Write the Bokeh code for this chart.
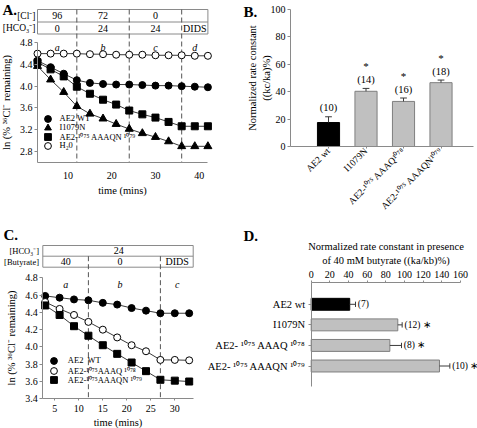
import math
from bokeh.plotting import figure
from bokeh.models import (Range1d, FixedTicker, PrintfTickFormatter, Legend,
                          LegendItem, GlobalInlineStyleSheet)
from bokeh.layouts import row, column
from bokeh.core.properties import value
from bokeh.embed import file_html
from bokeh.resources import INLINE

FONT = "Liberation Serif"
AXC = "#8a8a8a"
LINEC = "#3a3a3a"
DASHC = "#555555"
GRAYBAR = "#c0c0c0"
GRAYEDGE = "#7f7f7f"

# ---------------- Panel A data ----------------
a_time = [3, 6, 9, 12, 15, 18, 21, 24, 27, 30, 33, 36, 39, 42]
a_wt = [4.47, 4.35, 4.23, 4.11, 4.06, 4.04, 4.03, 4.03, 4.02, 4.01, 4.01, 4.00, 3.99, 3.98]
a_i1079n = [4.37, 4.12, 3.89, 3.63, 3.49, 3.40, 3.30, 3.21, 3.13, 3.06, 2.98, 2.89, 2.89, 2.89]
a_aaaqn = [4.44, 4.31, 4.18, 3.99, 3.86, 3.75, 3.66, 3.55, 3.48, 3.42, 3.34, 3.26, 3.26, 3.26]
a_h2o = [4.60, 4.60, 4.60, 4.60, 4.59, 4.59, 4.58, 4.58, 4.58, 4.57, 4.57, 4.57, 4.56, 4.56]
a_edges = [12, 24, 36]
a_phase_mid = [7.5, 18, 30, 39]
a_letters = ["a", "b", "c", "d"]
a_cl = ["96", "72", "0", ""]
a_hco3 = ["0", "24", "24", "DIDS"]
a_yticks = [2.8, 3.2, 3.6, 4.0, 4.4, 4.8]
a_xticks = [10, 20, 30, 40]
a_legend = ["AE2 WT", "I1079N", "AE2-\u00b9\u2070\u2077\u2075 AAAQN \u00b9\u2070\u2077\u2079", "H\u20820"]

# ---------------- Panel B data ----------------
b_x = [1, 2, 3, 4]
b_labels = ["AE2 wt", "I1079N", "AE2-\u00b9\u2070\u2077\u2075 AAAQ\u00b9\u2070\u2077\u2078",
            "AE2-\u00b9\u2070\u2077\u2075 AAAQN\u00b9\u2070\u2077\u2079"]
b_vals = [17.5, 40.3, 32.9, 46.6]
b_err = [4.2, 2.1, 2.5, 1.9]
b_n = ["(10)", "(14)", "(16)", "(18)"]
b_sig = ["", "*", "*", "*"]
b_yticks = [0, 20, 40, 60, 80, 100]

# ---------------- Panel C data ----------------
c_time = [3, 6, 9, 12, 15, 18, 21, 24, 27, 30, 33]
c_wt = [4.59, 4.57, 4.55, 4.54, 4.51, 4.49, 4.45, 4.42, 4.39, 4.39, 4.39]
c_aaaq = [4.52, 4.44, 4.37, 4.29, 4.20, 4.11, 4.02, 3.95, 3.85, 3.85, 3.845]
c_aaaqn = [4.48, 4.37, 4.24, 4.13, 4.02, 3.92, 3.82, 3.72, 3.62, 3.61, 3.60]
c_edges = [12, 27]
c_phase_mid = [7.3, 18.6, 30.5]
c_letters = ["a", "b", "c"]
c_butyrate = ["40", "0", "DIDS"]
c_hco3 = ["24"]
c_yticks = [3.4, 3.6, 3.8, 4.0, 4.2, 4.4, 4.6, 4.8]
c_xticks = [5, 10, 15, 20, 25, 30]
c_legend = ["AE2  WT", "AE2-\u00b9\u2070\u2077\u2075AAAQ \u00b9\u2070\u2077\u2078",
            "AE2-\u00b9\u2070\u2077\u2075AAAQN \u00b9\u2070\u2077\u2079"]

# ---------------- Panel D data ----------------
d_y = [1, 2, 3, 4]
d_labels = ["AE2 wt", "I1079N", "AE2- \u00b9\u2070\u2077\u2075 AAAQ \u00b9\u2070\u2077\u2078",
            "AE2- \u00b9\u2070\u2077\u2075 AAAQN \u00b9\u2070\u2077\u2079"]
d_vals = [41.3, 92.8, 84.3, 137.5]
d_err = [6.2, 4.7, 12.5, 11.1]
d_n = ["(7)", "(12) \u2217", "(8) \u2217", "(10) \u2217"]
d_xticks = [0, 20, 40, 60, 80, 100, 120, 140, 160]

BAR_FILL = ["black", GRAYBAR, GRAYBAR, GRAYBAR]
BAR_EDGE = ["black", GRAYEDGE, GRAYEDGE, GRAYEDGE]


def lin(d0, p0, k):
    """data value at pixel p for a linear screen mapping (k px per unit)."""
    return lambda p: d0 + (p - p0) / k


def make_fig(w, h, xr, yr, **kw):
    p = figure(width=w, height=h, x_range=xr, y_range=yr, title=None,
               min_border=0, min_border_left=0, min_border_right=0,
               min_border_top=0, min_border_bottom=0,
               output_backend="svg", toolbar_location=None, **kw)
    p.grid.visible = False
    p.outline_line_color = None
    p.background_fill_color = "white"
    p.border_fill_color = "white"
    for ax in p.axis:
        ax.axis_line_color = AXC
        ax.major_tick_line_color = AXC
        ax.minor_tick_line_color = None
        ax.major_tick_in = 0
        ax.major_tick_out = 3
        ax.major_label_text_font = FONT
        ax.major_label_text_font_size = "10px"
        ax.major_label_text_color = "black"
        ax.axis_label_text_font = FONT
        ax.axis_label_text_font_size = "10.5px"
        ax.axis_label_text_font_style = "normal"
        ax.axis_label_text_color = "black"
    return p


def txt(p, xs, ys, texts, size="10px", style="normal", align="center", baseline="middle"):
    p.text(x=xs, y=ys, text=texts, text_font=value(FONT), text_font_size=value(size),
           text_font_style=style, text_align=align, text_baseline=baseline, text_color="black")


def panel_letter(p, s, x, y):
    txt(p, [x], [y], [s], size="15px", style="bold", align="left", baseline="top")


def legend_rows(p, renderers, labels, xs_px, ys_px, standoff, box=17, size="8.5px"):
    for r, lab, yb in zip(renderers, labels, ys_px):
        lg = Legend(items=[LegendItem(label=lab, renderers=[r])],
                    location=(xs_px - box / 2, yb - box / 2),
                    label_text_font=FONT, label_text_font_size=size,
                    label_text_color="black",
                    glyph_width=box, glyph_height=box, label_height=box,
                    spacing=0, padding=0, margin=0, label_standoff=standoff,
                    border_line_color=None, background_fill_alpha=0)
        p.add_layout(lg)


# ======================= Panel A =======================
AW, AH = 240, 220
axA = lin(3, 37, 4.369)
ayA = lin(4.8, 42.3, -54.2)
pA = make_fig(AW, AH, Range1d(axA(0), axA(AW)), Range1d(ayA(AH), ayA(0)))
pA.yaxis.fixed_location = 3
pA.yaxis.bounds = (2.6, 4.8)
pA.yaxis.ticker = FixedTicker(ticks=a_yticks)
pA.yaxis.formatter = PrintfTickFormatter(format="%.1f")
pA.yaxis.axis_label = "ln (% \u00b3\u2076Cl\u207b remaining)"
pA.yaxis.major_label_standoff = 2
pA.yaxis.axis_label_standoff = 5
pA.xaxis.fixed_location = 2.6
pA.xaxis.bounds = (3, 42)
pA.xaxis.ticker = FixedTicker(ticks=a_xticks)
pA.xaxis.major_tick_line_color = None
pA.xaxis.major_label_standoff = 7
pA.xaxis.axis_label = "time (mins)"
pA.xaxis.axis_label_standoff = 2

a_top, a_mid, a_bot = ayA(9), ayA(21.5), ayA(33.5)
pA.segment(x0=[3, 3, 3], x1=[42, 42, 42], y0=[a_top, a_mid, a_bot], y1=[a_top, a_mid, a_bot],
           line_color=AXC, line_width=1)
pA.segment(x0=[3, 42], x1=[3, 42], y0=[a_top, a_top], y1=[a_bot, a_bot], line_color=AXC)
pA.segment(x0=a_edges, x1=a_edges, y0=[a_top] * 3, y1=[2.6] * 3,
           line_color=DASHC, line_dash="5 3", line_width=1)
row1A, row2A = (a_top + a_mid) / 2, (a_mid + a_bot) / 2
txt(pA, a_phase_mid, [row1A] * 4, a_cl)
txt(pA, a_phase_mid, [row2A] * 4, a_hco3)
txt(pA, a_phase_mid, [ayA(46.5)] * 4, a_letters, style="italic")
txt(pA, [axA(35), axA(35)], [row1A, row2A], ["[Cl\u207b]", "[HCO\u2083\u207b]"],
    size="9.5px", align="right")
panel_letter(pA, "A.", axA(2), ayA(1))

for ys in (a_wt, a_i1079n, a_aaaqn, a_h2o):
    pA.line(a_time, ys, line_color=LINEC, line_width=1)
rA1 = pA.scatter(a_time, a_wt, marker="circle", size=7, fill_color="black", line_color="black")
rA2 = pA.scatter(a_time, a_i1079n, marker="triangle", size=8, fill_color="black", line_color="black")
rA3 = pA.scatter(a_time, a_aaaqn, marker="square", size=7, fill_color="black", line_color="black")
rA4 = pA.scatter(a_time, a_h2o, marker="circle", size=7, fill_color="white", line_color="black")
legend_rows(pA, [rA1, rA2, rA3, rA4], a_legend, 47,
            [AH - 118, AH - 127, AH - 136, AH - 145], 4)

# ======================= Panel B =======================
BW, BH = 237, 220
axB = lin(1, 88, 37.5)
ayB = lin(100, 9, -1.37)
pB = make_fig(BW, BH, Range1d(axB(0), axB(BW)), Range1d(ayB(BH), ayB(0)))
pB.yaxis.fixed_location = axB(50)
pB.yaxis.bounds = (0, 100)
pB.yaxis.ticker = FixedTicker(ticks=b_yticks)
pB.yaxis.axis_label = "Normalized rate constant\n((kc/ka)%)"
pB.yaxis.major_label_standoff = 2
pB.yaxis.axis_label_standoff = -4
pB.xaxis.fixed_location = 0
pB.xaxis.bounds = (axB(50), axB(233))
pB.xaxis.ticker = FixedTicker(ticks=b_x)
pB.xaxis.major_label_overrides = {x: l for x, l in zip(b_x, b_labels)}
pB.xaxis.major_label_orientation = math.pi / 4
pB.xaxis.major_tick_out = 2
pB.xaxis.major_label_standoff = 1
pB.xaxis.major_label_text_font_size = "9.5px"
pB.vbar(x=b_x, top=b_vals, width=0.59, fill_color=BAR_FILL, line_color=BAR_EDGE, line_width=1)
b_tops = [v + e for v, e in zip(b_vals, b_err)]
pB.segment(x0=b_x, x1=b_x, y0=b_vals, y1=b_tops, line_color=LINEC)
pB.segment(x0=[x - 0.09 for x in b_x], x1=[x + 0.09 for x in b_x], y0=b_tops, y1=b_tops,
           line_color=LINEC)
txt(pB, b_x, [t + 2.5 for t in b_tops], b_n, size="10.5px", baseline="bottom")
txt(pB, b_x, [t + 16 for t in b_tops], b_sig, size="11px", baseline="middle")
panel_letter(pB, "B.", axB(3), ayB(3))

# ======================= Panel C =======================
CW, CH = 200, 208
axC = lin(0, 30.3, 4.8)
ayC = lin(4.8, 57.3, -86.43)
pC = make_fig(CW, CH, Range1d(axC(0), axC(CW)), Range1d(ayC(CH), ayC(0)))
pC.yaxis.fixed_location = 2.5
pC.yaxis.bounds = (3.4, 4.8)
pC.yaxis.ticker = FixedTicker(ticks=c_yticks)
pC.yaxis.formatter = PrintfTickFormatter(format="%.1f")
pC.yaxis.axis_label = "ln (% \u00b3\u2076Cl\u207b remaining)"
pC.yaxis.major_label_standoff = 2
pC.yaxis.axis_label_standoff = 5
pC.xaxis.fixed_location = 3.4
pC.xaxis.bounds = (2.5, axC(193))
pC.xaxis.ticker = FixedTicker(ticks=c_xticks)
pC.xaxis.major_tick_out = 2
pC.xaxis.major_label_standoff = 4
pC.xaxis.axis_label = "time (mins)"
pC.xaxis.axis_label_standoff = 2

c_top, c_mid, c_bot = ayC(25), ayC(35.7), ayC(46.7)
c_l, c_r = 2.5, axC(192.7)
pC.segment(x0=[c_l] * 3, x1=[c_r] * 3, y0=[c_top, c_mid, c_bot], y1=[c_top, c_mid, c_bot],
           line_color=AXC)
pC.segment(x0=[c_l, c_r], x1=[c_l, c_r], y0=[c_top, c_top], y1=[c_bot, c_bot], line_color=AXC)
pC.segment(x0=c_edges, x1=c_edges, y0=[c_mid] * 2, y1=[3.4] * 2,
           line_color=DASHC, line_dash="5 3")
row1C, row2C = (c_top + c_mid) / 2, (c_mid + c_bot) / 2
txt(pC, [18.3], [row1C], c_hco3)
txt(pC, c_phase_mid, [row2C] * 3, c_butyrate)
txt(pC, c_phase_mid, [ayC(64)] * 3, c_letters, style="italic")
txt(pC, [axC(38.5), axC(38.5)], [row1C, row2C], ["[HCO\u2083\u207b]", "[Butyrate]"],
    size="8.5px", align="right")
panel_letter(pC, "C.", axC(3), ayC(6))

for ys in (c_wt, c_aaaq, c_aaaqn):
    pC.line(c_time, ys, line_color=LINEC, line_width=1)
rC1 = pC.scatter(c_time, c_wt, marker="circle", size=7, fill_color="black", line_color="black")
rC2 = pC.scatter(c_time, c_aaaq, marker="circle", size=7, fill_color="white", line_color="black")
rC3 = pC.scatter(c_time, c_aaaqn, marker="square", size=7, fill_color="black", line_color="black")
legend_rows(pC, [rC1, rC2, rC3], c_legend, 53.3, [CH - 140, CH - 150, CH - 159.7], 6)

# ======================= Panel D =======================
DW, DH = 277, 208
axD = lin(0, 110.7, 0.933)
ayD = lin(1, 83.8, 20.57)
pD = make_fig(DW, DH, Range1d(axD(0), axD(DW)), Range1d(ayD(DH), ayD(0)),
              x_axis_location="above")
pD.xaxis.fixed_location = ayD(61.7)
pD.xaxis.bounds = (0, 160)
pD.xaxis.ticker = FixedTicker(ticks=d_xticks)
pD.xaxis.major_tick_out = 2
pD.xaxis.major_label_standoff = 2
pD.xaxis.axis_label = "Normalized rate constant in presence\nof 40 mM butyrate ((ka/kb)%)"
pD.xaxis.axis_label_standoff = 3
pD.yaxis.fixed_location = 0
pD.yaxis.bounds = (ayD(61.7), ayD(165.7))
pD.yaxis.ticker = FixedTicker(ticks=d_y)
pD.yaxis.major_label_overrides = {y: l for y, l in zip(d_y, d_labels)}
pD.yaxis.major_label_standoff = 3
pD.yaxis.major_label_text_font_size = "10.5px"
pD.hbar(y=d_y, left=0, right=d_vals, height=0.58, fill_color=BAR_FILL, line_color=BAR_EDGE)
d_ends = [v + e for v, e in zip(d_vals, d_err)]
pD.segment(x0=d_vals, x1=d_ends, y0=d_y, y1=d_y, line_color=LINEC)
pD.segment(x0=d_ends, x1=d_ends, y0=[y - 0.13 for y in d_y], y1=[y + 0.13 for y in d_y],
           line_color=LINEC)
txt(pD, [e + 2.5 for e in d_ends], d_y, d_n, size="9.5px", align="left")
panel_letter(pD, "D.", axD(43), ayD(7))

layout = column(row(pA, pB), row(pC, pD))
layout.stylesheets = [GlobalInlineStyleSheet(css="body { margin: 0 !important; }")]

open("out.html", "w").write(file_html(layout, INLINE))
